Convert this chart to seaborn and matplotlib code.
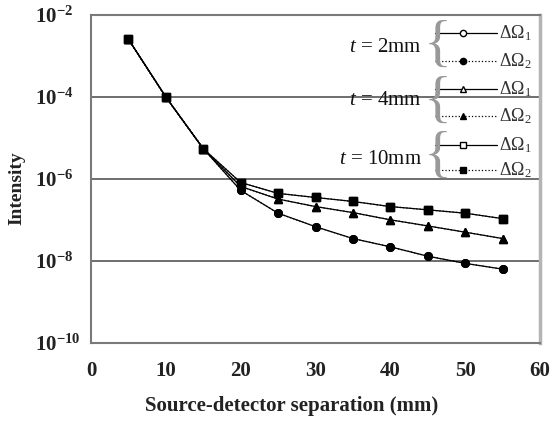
import matplotlib
matplotlib.use("Agg")
import matplotlib.pyplot as plt
import matplotlib.ticker as mticker
import numpy as np
import pandas as pd
import seaborn as sns

# Source-detector separation (mm)
separation = [5, 10, 15, 20, 25, 30, 35, 40, 45, 50, 55]

# Detected intensity for each layer thickness t (ΔΩ1 and ΔΩ2 coincide)
t2_dO1 = [2.5e-3, 9.8e-5, 5.4e-6, 5.2e-7, 1.45e-7, 6.8e-8, 3.5e-8, 2.2e-8, 1.3e-8, 8.7e-9, 6.3e-9]
t2_dO2 = [2.5e-3, 9.8e-5, 5.4e-6, 5.2e-7, 1.45e-7, 6.8e-8, 3.5e-8, 2.2e-8, 1.3e-8, 8.7e-9, 6.3e-9]
t4_dO1 = [2.5e-3, 9.8e-5, 5.4e-6, 6.5e-7, 3.2e-7, 2.1e-7, 1.5e-7, 1.0e-7, 7.1e-8, 5.0e-8, 3.5e-8]
t4_dO2 = [2.5e-3, 9.8e-5, 5.4e-6, 6.5e-7, 3.2e-7, 2.1e-7, 1.5e-7, 1.0e-7, 7.1e-8, 5.0e-8, 3.5e-8]
t10_dO1 = [2.5e-3, 9.8e-5, 5.4e-6, 8.1e-7, 4.4e-7, 3.5e-7, 2.8e-7, 2.1e-7, 1.75e-7, 1.45e-7, 1.07e-7]
t10_dO2 = [2.5e-3, 9.8e-5, 5.4e-6, 8.1e-7, 4.4e-7, 3.5e-7, 2.8e-7, 2.1e-7, 1.75e-7, 1.45e-7, 1.07e-7]

thickness_labels = ["2mm", "4mm", "10mm"]
y_ticks = [1e-2, 1e-4, 1e-6, 1e-8, 1e-10]
y_tick_labels = [r"$\mathregular{10^{-2}}$", r"$\mathregular{10^{-4}}$", r"$\mathregular{10^{-6}}$",
                 r"$\mathregular{10^{-8}}$", r"$\mathregular{10^{-10}}$"]
x_ticks = [0, 10, 20, 30, 40, 50, 60]

sns.set_theme(style="white")
plt.rcParams["font.family"] = ["Liberation Serif", "DejaVu Serif"]
plt.rcParams["mathtext.fontset"] = "custom"
plt.rcParams["mathtext.rm"] = "Liberation Serif"
plt.rcParams["mathtext.it"] = "Liberation Serif:italic"
plt.rcParams["mathtext.bf"] = "Liberation Serif:bold"
plt.rcParams["axes.unicode_minus"] = False

fig = plt.figure(figsize=(5.52, 4.21), dpi=100)
ax = fig.add_axes([91 / 552, 1 - 343 / 421, 449 / 552, 328.5 / 421])

series = [
    (t2_dO1, "o", "-", "white", 5.5),
    (t4_dO1, "^", "-", "white", 6.0),
    (t10_dO1, "s", "-", "white", 5.5),
    (t2_dO2, "o", ":", "black", 5.5),
    (t4_dO2, "^", ":", "black", 6.0),
    (t10_dO2, "s", ":", "black", 5.5),
]
for vals, mk, ls, fc, ms in series:
    df = pd.DataFrame({"sep": separation, "I": vals})
    sns.lineplot(data=df, x="sep", y="I", ax=ax, color="black", linewidth=0.9,
                 linestyle=ls, marker=mk, markersize=ms, markerfacecolor=fc,
                 markeredgecolor="black", markeredgewidth=1.0, zorder=3)

ax.set_yscale("log")
ax.set_ylim(1e-10, 1e-2)
ax.set_xlim(0, 60)
ax.set_yticks(y_ticks)
ax.set_yticklabels(y_tick_labels)
ax.yaxis.set_minor_locator(mticker.NullLocator())
ax.set_xticks(x_ticks)
ax.set_xticklabels([str(v) for v in x_ticks])

ax.grid(axis="y", which="major", color="#6e6e6e", linewidth=1.4)
ax.grid(axis="x", visible=False)
for side in ["left", "bottom", "top"]:
    ax.spines[side].set_color("#7a7a7a")
    ax.spines[side].set_linewidth(1.5)
ax.spines["right"].set_color("#b4b4b4")
ax.spines["right"].set_linewidth(2.5)

ax.tick_params(axis="x", direction="in", length=4, width=1, color="#999999",
               pad=13, labelsize=15, labelcolor="#222222")
ax.tick_params(axis="y", length=0, pad=40.3, labelsize=15, labelcolor="#222222")
for lab in ax.get_yticklabels():
    lab.set_horizontalalignment("left")
    lab.set_fontweight("bold")
for lab in ax.get_xticklabels():
    lab.set_fontweight("bold")

ax.set_xlabel("Source-detector separation (mm)", fontsize=15, fontweight="bold",
              color="#222222")
ax.xaxis.set_label_coords(0.4466, -0.161)
ax.set_ylabel("Intensity", fontsize=14, fontweight="bold", color="#222222")
ax.yaxis.set_label_coords(-0.146, 0.47)

# Grouped key: thickness label, brace, then ΔΩ1 / ΔΩ2 samples
row_y = [(0.944, 0.858), (0.773, 0.690), (0.603, 0.527)]
group_y = [0.900, 0.737, 0.560]
markers = ["o", "^", "s"]
x0, xm, x1 = 0.766, 0.828, 0.904
for lab, (ya, yb), yc, mk in zip(thickness_labels, row_y, group_y, markers):
    ax.text(0.737, yc, r"$t$ = " + lab, transform=ax.transAxes, ha="right",
            va="center", fontsize=15, color="#111111")
    ax.text(0.742, (ya + yb) / 2, "{", transform=ax.transAxes, ha="left", va="center",
            fontsize=42, color="#999999", fontweight="light")
    ax.plot([x0, xm, x1], [ya, ya, ya], transform=ax.transAxes, color="black",
            linewidth=0.9, linestyle="-", marker=mk, markevery=[1], markersize=4.5,
            markerfacecolor="white", markeredgecolor="black", clip_on=False)
    ax.plot([x0, xm, x1], [yb, yb, yb], transform=ax.transAxes, color="black",
            linewidth=0.9, linestyle=":", marker=mk, markevery=[1], markersize=4.5,
            markerfacecolor="black", markeredgecolor="black", clip_on=False)
    ax.text(x1 + 0.004, ya, r"$\Delta\Omega_1$", transform=ax.transAxes, ha="left",
            va="center", fontsize=13, color="#333333")
    ax.text(x1 + 0.004, yb, r"$\Delta\Omega_2$", transform=ax.transAxes, ha="left",
            va="center", fontsize=13, color="#333333")

fig.savefig("out.png", dpi=100)
